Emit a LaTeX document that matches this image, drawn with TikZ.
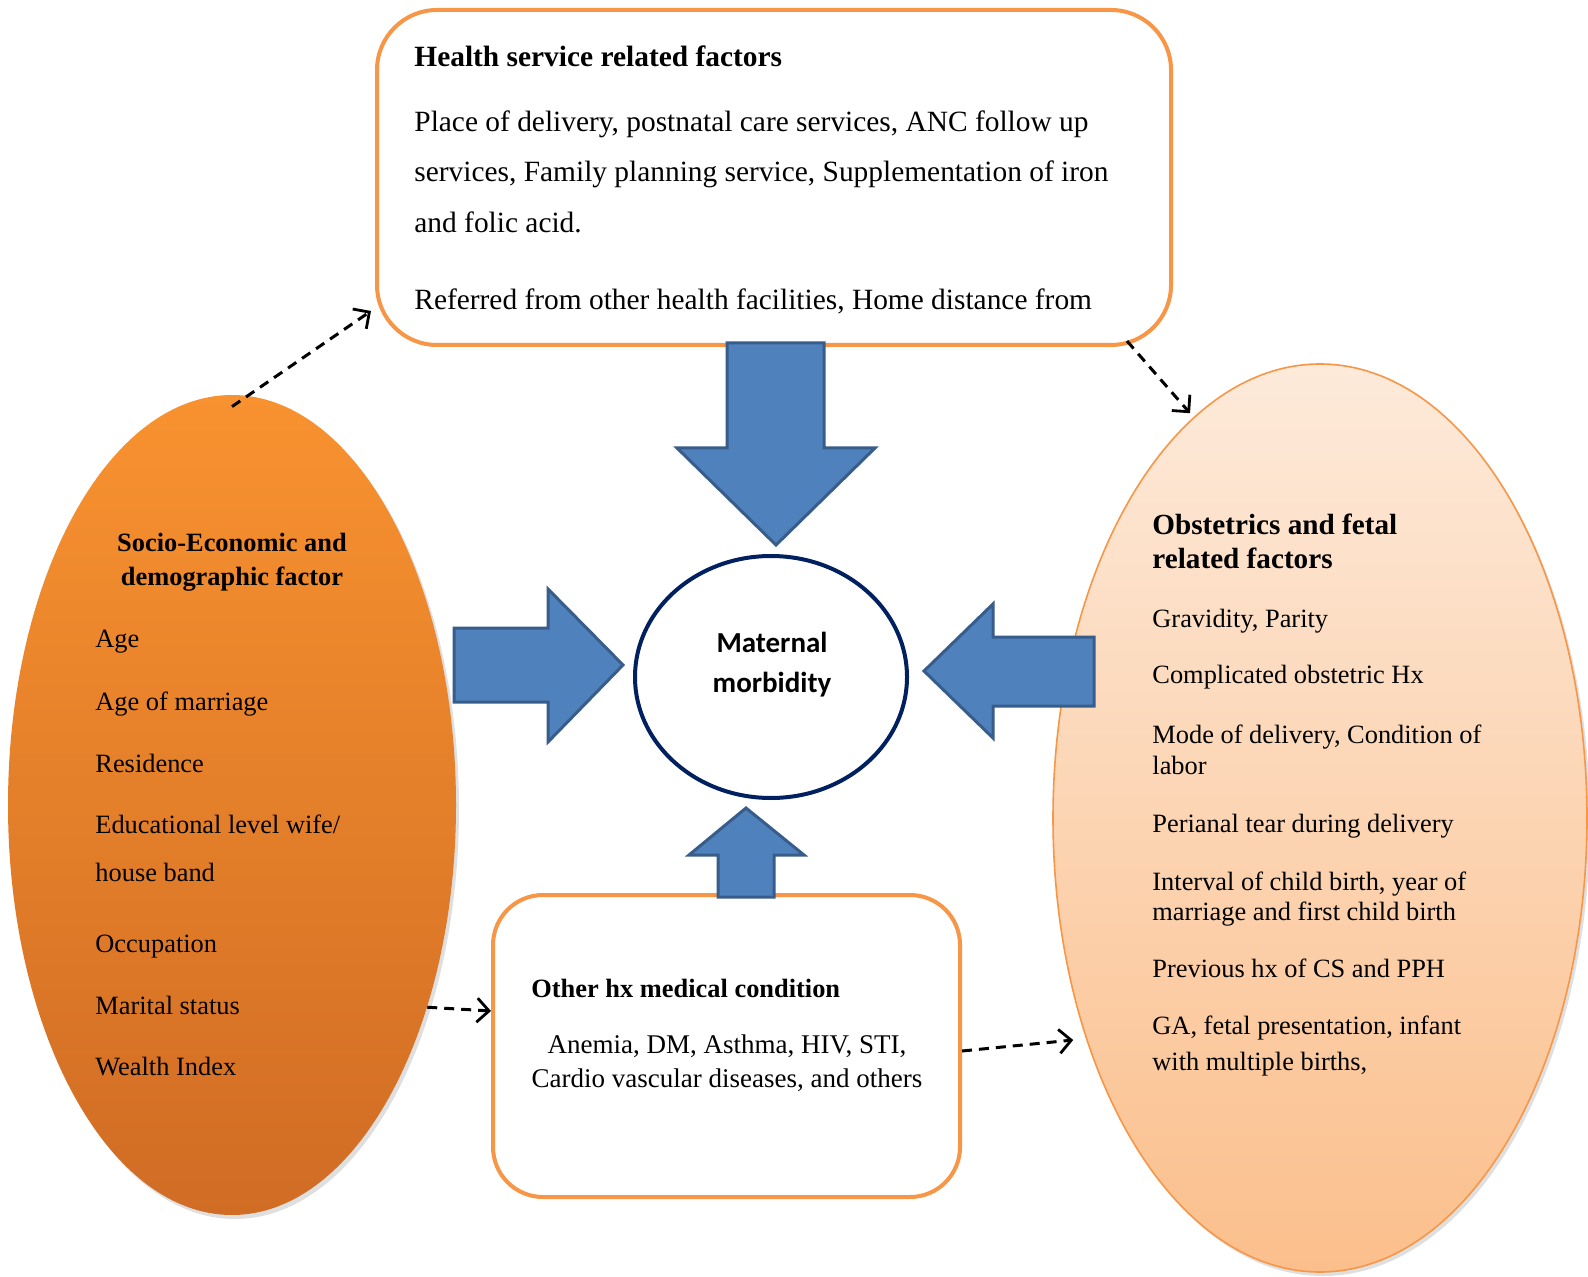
\documentclass[tikz,border=0pt]{standalone}
\usepackage{fontspec}
\setmainfont{Liberation Serif}
\newfontfamily\calibri{Carlito}
\usetikzlibrary{shapes.geometric,arrows.meta,shadows}
\definecolor{orgline}{HTML}{F79646}
\definecolor{blfill}{HTML}{4F81BD}
\definecolor{bldraw}{HTML}{385D8A}
\definecolor{navy}{HTML}{002060}
\definecolor{lefttop}{RGB}{248,146,48}
\definecolor{leftbot}{RGB}{208,108,36}
\definecolor{righttop}{RGB}{253,234,218}
\definecolor{rightbot}{RGB}{251,191,140}
\begin{document}
\begin{tikzpicture}[x=0.5pt,y=-0.5pt,
  txt/.style={anchor=base west, inner sep=0pt, font=\fontsize{13.2}{16}\selectfont},
  txtc/.style={anchor=base, inner sep=0pt, font=\fontsize{13.2}{16}\selectfont},
  toptxt/.style={anchor=base west, inner sep=0pt, font=\fontsize{14.7}{18}\selectfont},
  rtitle/.style={anchor=base west, inner sep=0pt, font=\fontsize{14.6}{18}\selectfont\bfseries},
  bottxt/.style={anchor=base, inner sep=0pt, font=\fontsize{13.5}{16}\selectfont},
  ctxt/.style={anchor=base, inner sep=0pt, font=\calibri\fontsize{14.5}{17}\selectfont\bfseries},
  roundbox/.style={draw=orgline, line width=2pt, fill=white, inner sep=0pt},
  blockarrow/.style={fill=blfill, draw=bldraw, line width=1.5pt, line join=miter},
  dasharrow/.style={dash pattern=on 5pt off 3.5pt, line width=1.5pt, -{Straight Barb[length=6pt,width=12pt,line width=1.4pt]}},
  softshadow/.style={drop shadow={opacity=0.25, shadow xshift=1.5pt, shadow yshift=-2pt}}
]
\useasboundingbox (0,0) rectangle (1588,1277);
\fill[white] (0,0) rectangle (1588,1277);

% shapes
\node[roundbox, rounded corners=30pt, minimum width=397pt, minimum height=167.5pt] (hs) at (774,177.5) {};
\node[ellipse, draw=none, inner sep=0pt, minimum width=224pt, minimum height=410pt,
      top color=lefttop, bottom color=leftbot, softshadow] (se) at (232,805) {};
\node[ellipse, draw=orgline, line width=0.8pt, inner sep=0pt, minimum width=267pt, minimum height=454pt,
      top color=righttop, bottom color=rightbot, softshadow] (ro) at (1320,818) {};
\node[roundbox, rounded corners=25pt, minimum width=233.5pt, minimum height=151pt] (bb) at (726.5,1046) {};
\node[ellipse, draw=navy, line width=2pt, fill=white, inner sep=0pt, minimum width=136pt, minimum height=121pt] (mm) at (771,677) {};

% top box text
\node[toptxt, font=\fontsize{14.7}{18}\selectfont\bfseries] (hst) at (414,67) {Health service related factors};
\node[toptxt] (hs1) at (414,132) {Place of delivery, postnatal care services, ANC follow up};
\node[toptxt] (hs2) at (414,182) {services, Family planning service, Supplementation of iron};
\node[toptxt] (hs3) at (414,233) {and folic acid.};
\node[toptxt] (hs4) at (414,310) {Referred from other health facilities, Home distance from};

% left ellipse text
\node[txtc, font=\fontsize{13.2}{16}\selectfont\bfseries] (set1) at (232,552) {Socio-Economic and};
\node[txtc, font=\fontsize{13.2}{16}\selectfont\bfseries] (set2) at (232,585) {demographic factor};
\node[txt] (se1) at (95,647) {Age};
\node[txt] (se2) at (95,710) {Age of marriage};
\node[txt] (se3) at (95,772) {Residence};
\node[txt] (se4) at (95,833) {Educational level wife/};
\node[txt] (se5) at (95,881) {house band};
\node[txt] (se6) at (95,952) {Occupation};
\node[txt] (se7) at (95,1014) {Marital status};
\node[txt] (se8) at (95,1075) {Wealth Index};

% right ellipse text
\node[rtitle] (rot1) at (1152,535) {Obstetrics and fetal};
\node[rtitle] (rot2) at (1152,568) {related factors};
\node[txt] (ro1) at (1152,627) {Gravidity, Parity};
\node[txt] (ro2) at (1152,683) {Complicated obstetric Hx};
\node[txt] (ro3) at (1152,743) {Mode of delivery, Condition of};
\node[txt] (ro4) at (1152,774) {labor};
\node[txt] (ro5) at (1152,832) {Perianal tear during delivery};
\node[txt] (ro6) at (1152,890) {Interval of child birth, year of};
\node[txt] (ro7) at (1152,920) {marriage and first child birth};
\node[txt] (ro8) at (1152,977) {Previous hx of CS and PPH};
\node[txt] (ro9) at (1152,1034) {GA, fetal presentation, infant};
\node[txt] (ro10) at (1152,1070) {with multiple births,};

% bottom box text
\node[txt, font=\fontsize{13.2}{16}\selectfont\bfseries] (bbt) at (531,997) {Other hx medical condition};
\node[bottxt] (bb1) at (727,1053) {Anemia, DM, Asthma, HIV, STI,};
\node[bottxt] (bb2) at (727,1087) {Cardio vascular diseases, and others};

% centre text
\node[ctxt] (mmt1) at (772,652) {Maternal};
\node[ctxt] (mmt2) at (772,692) {morbidity};

% block arrows
\draw[blockarrow] (727,343) -- (824,343) -- (824,448) -- (875,448) -- (776,545) -- (677,448) -- (727,448) -- cycle;
\draw[blockarrow] (454,628) -- (548,628) -- (548,589) -- (623,665) -- (548,742) -- (548,702) -- (454,702) -- cycle;
\draw[blockarrow] (1094,637) -- (993,637) -- (993,604) -- (924,671) -- (993,738) -- (993,706) -- (1094,706) -- cycle;
\draw[blockarrow] (718,897) -- (718,855) -- (689,855) -- (746,808) -- (804,855) -- (774,855) -- (774,897) -- cycle;

% dashed connectors
\draw[dasharrow] ([yshift=-6pt]se.north) -- ([shift={(-2pt,18pt)}]hs.south west);
\draw[dasharrow] ([shift={(-23pt,3pt)}]hs.south east) -- ([shift={(-65pt,-25pt)}]ro.north);
\draw[dasharrow] (se.-46.8) -- ([yshift=17.5pt]bb.west);
\draw[dasharrow] ([yshift=-2.5pt]bb.east) -- ([shift={(10.5pt,-111pt)}]ro.west);
\end{tikzpicture}
\end{document}
